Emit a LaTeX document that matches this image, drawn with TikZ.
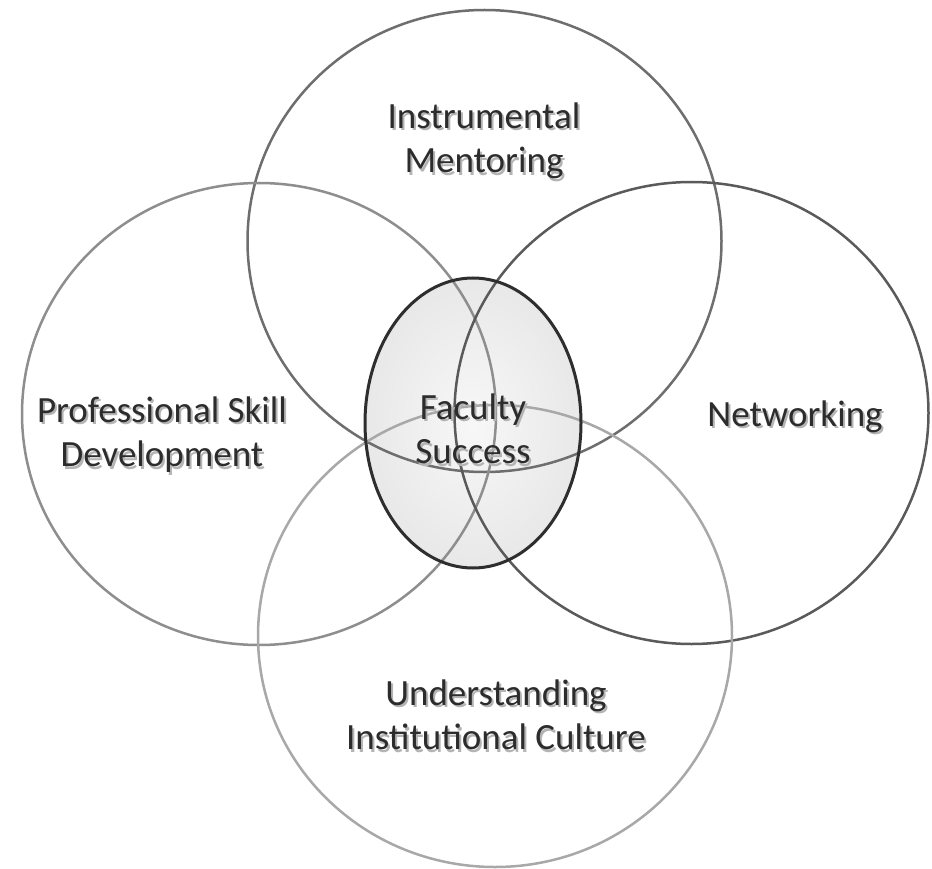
\documentclass[tikz,border=0pt]{standalone}
\usepackage{fontspec}
\setmainfont{Carlito}
\usetikzlibrary{shapes.geometric}
\definecolor{txt}{HTML}{2C2C2C}
\definecolor{shad}{HTML}{B4B4B4}
\definecolor{ctop}{HTML}{6E6E6E}
\definecolor{cleft}{HTML}{8E8E8E}
\definecolor{cright}{HTML}{5A5A5A}
\definecolor{cbot}{HTML}{A8A8A8}
\definecolor{cedge}{HTML}{2E2E2E}
\newcommand{\shd}[1]{\rlap{\kern2pt\raisebox{-2.5pt}{\textcolor{shad}{#1}}}#1}
\tikzset{
  x=1pt, y=-1pt,
  ring/.style={ellipse, draw, line width=2.5pt, inner sep=0pt, outer sep=0pt,
               minimum width=474pt, minimum height=462pt},
  lbl/.style={align=center, text=txt, font=\fontsize{37}{44.5}\selectfont, inner sep=0pt}
}
\begin{document}
\begin{tikzpicture}
\useasboundingbox (0,0) rectangle (932,869);
\fill[white] (0,0) rectangle (932,869);
% central fill
\node[ellipse, inner sep=0pt, minimum width=216pt, minimum height=290pt,
      inner color=gray!6, outer color=gray!18, draw=none] (cfillnode) at (473,423) {};
% four circles
\node[ring, draw=ctop]   (mentor) at (484.5,241) {};
\node[ring, draw=cleft]  (skill)  at (259,414) {};
\node[ring, draw=cright] (net)    at (691.5,413) {};
\node[ring, draw=cbot]   (cult)   at (495,636) {};
% central border
\node[ellipse, draw=cedge, line width=3pt, inner sep=0pt,
      minimum width=216pt, minimum height=290pt] (core) at (473,423) {};
% labels
\node[lbl] (tmentor) at (484,142) {\shd{Instrumental}\\\shd{Mentoring}};
\node[lbl] (tskill)  at (162,436) {\shd{Professional Skill}\\\shd{Development}};
\node[lbl] (tnet)    at (795,418) {\shd{Networking}};
\node[lbl] (tcult)   at (496,716) {\shd{Understanding}\\\shd{Institutional Culture}};
\node[lbl] (tcore)   at (473,430) {\shd{Faculty}\\\shd{Success}};
\end{tikzpicture}
\end{document}
